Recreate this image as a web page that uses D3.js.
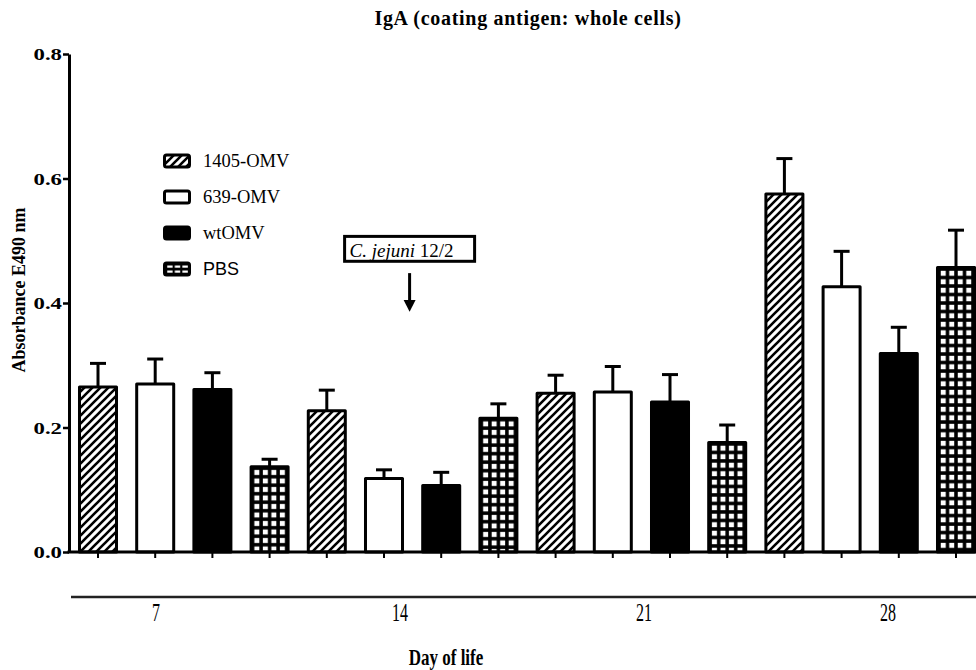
<!DOCTYPE html>
<html>
<head>
<meta charset="utf-8">
<script src="https://cdn.jsdelivr.net/npm/d3@7"></script>
<style>
  body { margin: 0; background: #fff; }
  svg { display: block; }
</style>
</head>
<body>
<div id="chart"></div>
<script>
// values
const days = ["7", "14", "21", "28"]
const groups = ["1405-OMV", "639-OMV", "wtOMV", "PBS"]
const omv1405 = [0.265, 0.227, 0.255, 0.575]
const omv639 = [0.270, 0.118, 0.257, 0.426]
const wtOMV = [0.261, 0.107, 0.241, 0.319]
const pbs = [0.137, 0.215, 0.176, 0.457]
const sem1405 = [0.038, 0.033, 0.029, 0.057]
const sem639 = [0.040, 0.014, 0.041, 0.057]
const semWt = [0.027, 0.021, 0.044, 0.042]
const semPbs = [0.012, 0.023, 0.028, 0.060]
const yTicks = [0.0, 0.2, 0.4, 0.6, 0.8]

const means = [omv1405, omv639, wtOMV, pbs]
const sems = [sem1405, sem639, semWt, semPbs]

const bars = []
days.forEach((d, i) => {
  groups.forEach((g, j) => {
    bars.push({ day: d, group: g, gi: j, key: d + "|" + g, mean: means[j][i], sem: sems[j][i] })
  })
})

const serif = "'Liberation Serif', 'Times New Roman', serif"
const sans = "'Liberation Sans', Arial, sans-serif"

const svg = d3.select("#chart")
  .append("svg")
  .attr("width", 976)
  .attr("height", 670)

const x = d3.scaleBand()
  .domain(bars.map(b => b.key))
  .range([69.4, 984.6])
  .paddingInner(0.353)
  .paddingOuter(0.1765)

const y = d3.scaleLinear()
  .domain([0, 0.8])
  .range([552, 54])

const defs = svg.append("defs")

// diagonal hatch
const hatch = defs.append("pattern")
  .attr("id", "hatch")
  .attr("patternUnits", "userSpaceOnUse")
  .attr("width", 8)
  .attr("height", 8)
hatch.append("rect").attr("width", 8).attr("height", 8).attr("fill", "white")
hatch.append("path")
  .attr("d", "M-2,2L2,-2M0,8L8,0M6,10L10,6")
  .attr("stroke", "black")
  .attr("stroke-width", 2.6)

// grid pattern, one per PBS bar so the squares sit inside the outline
const cell = (x.bandwidth() - 3) / 4
bars.filter(b => b.gi === 3).forEach((b, i) => {
  const p = defs.append("pattern")
    .attr("id", "grid" + i)
    .attr("patternUnits", "userSpaceOnUse")
    .attr("x", x(b.key) + 1.5)
    .attr("y", y(b.mean) + 1.5)
    .attr("width", cell)
    .attr("height", cell)
  p.append("rect").attr("width", cell).attr("height", cell).attr("fill", "black")
  p.append("rect").attr("x", 1.75).attr("y", 1.75).attr("width", 5).attr("height", 5).attr("fill", "white")
  b.fill = "url(#grid" + i + ")"
})

const gl = defs.append("pattern")
  .attr("id", "gridLegend")
  .attr("patternUnits", "userSpaceOnUse")
  .attr("x", 166)
  .attr("width", 7.6)
  .attr("height", 5)
gl.append("rect").attr("width", 7.6).attr("height", 5).attr("fill", "black")
gl.append("rect").attr("x", 1.2).attr("y", 1.5).attr("width", 5.4).attr("height", 2.2).attr("fill", "white")

const fills = ["url(#hatch)", "white", "black", null]
bars.forEach(b => { if (b.gi !== 3) b.fill = fills[b.gi] })

// title
svg.append("text")
  .attr("x", 528)
  .attr("y", 25)
  .attr("text-anchor", "middle")
  .attr("font-family", serif)
  .attr("font-weight", "bold")
  .attr("font-size", 20)
  .attr("letter-spacing", 0.7)
  .text("IgA (coating antigen: whole cells)")

// error bars first, so the bar outline covers their foot
const err = svg.append("g")
  .selectAll("g")
  .data(bars)
  .enter()
  .append("g")
  .attr("stroke", "black")
  .attr("stroke-width", 3)

err.append("line")
  .attr("x1", d => x(d.key) + x.bandwidth() / 2)
  .attr("x2", d => x(d.key) + x.bandwidth() / 2)
  .attr("y1", d => y(d.mean))
  .attr("y2", d => y(d.mean + d.sem))

err.append("line")
  .attr("x1", d => x(d.key) + x.bandwidth() / 2 - 8)
  .attr("x2", d => x(d.key) + x.bandwidth() / 2 + 8)
  .attr("y1", d => y(d.mean + d.sem))
  .attr("y2", d => y(d.mean + d.sem))

svg.append("g")
  .selectAll("rect")
  .data(bars)
  .enter()
  .append("rect")
  .attr("x", d => x(d.key))
  .attr("y", d => y(d.mean))
  .attr("width", x.bandwidth())
  .attr("height", d => y(0) - y(d.mean))
  .attr("fill", d => d.fill)
  .attr("stroke", "black")
  .attr("stroke-width", 3)
  .attr("stroke-linejoin", "round")

// axes
const yAxis = svg.append("g")
  .attr("transform", "translate(69,0)")
  .call(d3.axisLeft(y).tickValues(yTicks).tickFormat(d3.format(".1f")).tickSize(6).tickSizeOuter(0))
yAxis.select(".domain").attr("stroke-width", 3)
yAxis.selectAll(".tick line").attr("stroke-width", 2.5)
yAxis.selectAll(".tick text")
  .attr("font-family", serif)
  .attr("font-weight", "bold")
  .attr("font-size", 17.5)
  .attr("fill", "black")
  .attr("x", -5.4)
  .attr("transform", "scale(1.3,1)")

const xAxis = svg.append("g")
  .attr("transform", "translate(0,552)")
  .call(d3.axisBottom(x).tickSize(6).tickSizeOuter(0).tickFormat(""))
xAxis.select(".domain").attr("stroke-width", 3).attr("d", "M67.5,0H976")
xAxis.selectAll(".tick line").attr("stroke-width", 2)

svg.append("text")
  .attr("transform", "translate(25,290) rotate(-90)")
  .attr("text-anchor", "middle")
  .attr("font-family", serif)
  .attr("font-weight", "bold")
  .attr("font-size", 18)
  .text("Absorbance E490 nm")

// day axis below
const dayX = d3.scalePoint().domain(days).range([156, 888])

svg.append("line")
  .attr("x1", 71)
  .attr("x2", 976)
  .attr("y1", 597)
  .attr("y2", 597)
  .attr("stroke", "#222")
  .attr("stroke-width", 2.5)

svg.append("g")
  .selectAll("text")
  .data(days)
  .enter()
  .append("text")
  .attr("transform", d => `translate(${dayX(d)},621) scale(1,1.55)`)
  .attr("text-anchor", "middle")
  .attr("font-family", serif)
  .attr("font-size", 16)
  .text(d => d)

svg.append("text")
  .attr("transform", "translate(446,665) scale(1,1.35)")
  .attr("text-anchor", "middle")
  .attr("font-family", serif)
  .attr("font-weight", "bold")
  .attr("font-size", 17)
  .text("Day of life")

// legend
const ly = d3.scalePoint().domain(groups).range([161, 269])
const legendFills = ["url(#hatch)", "white", "black", "url(#gridLegend)"]

const legend = svg.append("g")
  .selectAll("g")
  .data(groups)
  .enter()
  .append("g")
  .attr("transform", d => `translate(0,${ly(d)})`)

legend.append("rect")
  .attr("x", 164.5)
  .attr("y", -6)
  .attr("width", 25)
  .attr("height", 12)
  .attr("rx", 2)
  .attr("fill", (d, i) => legendFills[i])
  .attr("stroke", "black")
  .attr("stroke-width", 3)

legend.append("text")
  .attr("x", 203)
  .attr("y", 6)
  .attr("font-family", (d, i) => i === 3 ? sans : serif)
  .attr("font-size", (d, i) => i === 3 ? 18 : 18.5)
  .text(d => d)

// challenge annotation
const ax = (x(days[1] + "|" + groups[1]) + x(days[1] + "|" + groups[2]) + x.bandwidth()) / 2 - 3

svg.append("rect")
  .attr("x", ax - 65)
  .attr("y", y(0.507))
  .attr("width", 130)
  .attr("height", y(0.467) - y(0.507))
  .attr("fill", "white")
  .attr("stroke", "black")
  .attr("stroke-width", 3)

const note = svg.append("text")
  .attr("x", ax - 60)
  .attr("y", y(0.474))
  .attr("font-family", serif)
  .attr("font-size", 19)
note.append("tspan").attr("font-style", "italic").text("C. jejuni")
note.append("tspan").text(" 12/2")

svg.append("line")
  .attr("x1", ax)
  .attr("x2", ax)
  .attr("y1", y(0.448))
  .attr("y2", y(0.403))
  .attr("stroke", "black")
  .attr("stroke-width", 3)

svg.append("path")
  .attr("d", `M${ax - 6},${y(0.405)}L${ax + 6},${y(0.405)}L${ax},${y(0.386)}Z`)
  .attr("fill", "black")
</script>
</body>
</html>
